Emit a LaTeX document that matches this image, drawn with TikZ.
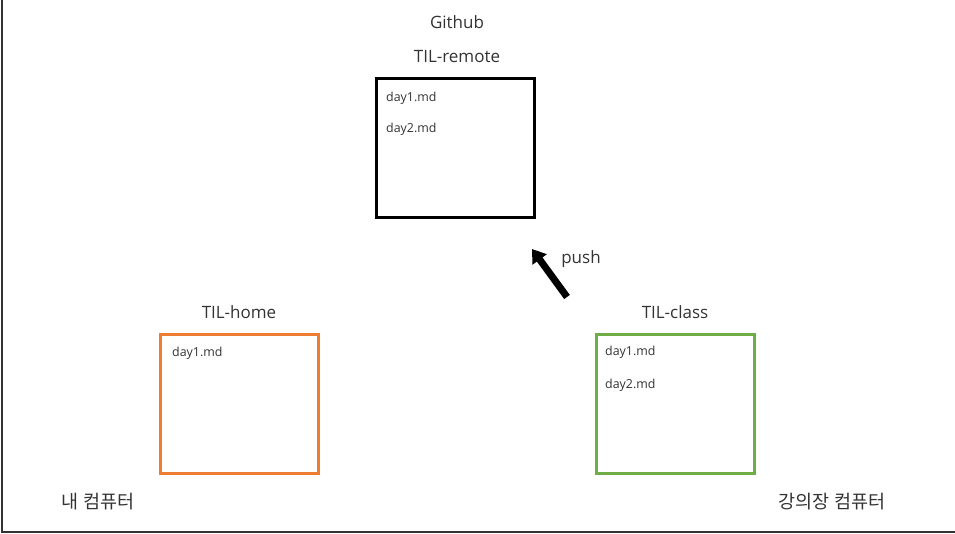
\documentclass[tikz,border=0pt]{standalone}
\usepackage{fontspec}
\usepackage{xcolor}
\usetikzlibrary{arrows.meta}
\setmainfont{Open Sans}
\newfontfamily\kr{Noto Sans CJK KR}
\definecolor{homeorange}{HTML}{ED7D31}
\definecolor{classgreen}{HTML}{70AD47}
\definecolor{ink}{HTML}{333333}

\begin{document}
\begin{tikzpicture}[x=1pt, y=-1pt]
\tikzstyle{repo}=[draw, line width=3pt, minimum width=158pt,
                  minimum height=139pt, inner sep=0pt]
\tikzstyle{title}=[text=ink, inner sep=0pt, font=\fontsize{17}{20}\selectfont]
\tikzstyle{file}=[text=ink, anchor=west, inner sep=0pt, font=\fontsize{12.4}{15}\selectfont]
\tikzstyle{place}=[text=ink, inner sep=0pt, font=\kr\fontsize{18.5}{22}\selectfont]
\useasboundingbox (0,0) rectangle (955,534);
\draw[ink, line width=2pt] (1.5,0) -- (1.5,532) -- (955,532);
% repositories
\node[repo] (remote) at (455.5,148) {};
\node[repo, homeorange] (home) at (239.5,403.5) {};
\node[repo, classgreen] (class) at (675.5,403.5) {};
% titles
\node[title] (github) at (457,22) {Github};
\node[title] (remotename) at (457,57) {TIL-remote};
\node[title] (homename) at (239,312) {TIL-home};
\node[title] (classname) at (675,312) {TIL-class};
% files
\node[file] (r1) at (386,98) {day1.md};
\node[file] (r2) at (386,129) {day2.md};
\node[file] (h1) at (172,353) {day1.md};
\node[file] (c1) at (605,352) {day1.md};
\node[file] (c2) at (605,385) {day2.md};
% computers
\node[place] (mine) at (98,502) {내 컴퓨터};
\node[place] (lab) at (832,502) {강의장 컴퓨터};
% push
\coordinate (pushfrom) at (567,297);
\coordinate (pushto) at (532,249);
\draw[line width=7pt, -{Triangle[width=17pt,length=13pt]}] (pushfrom) -- (pushto);
\node[title] (push) at (581,259) {push};
\end{tikzpicture}
\end{document}
